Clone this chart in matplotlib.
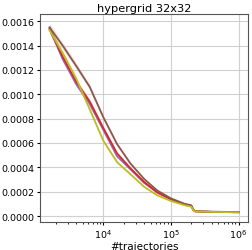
import matplotlib
matplotlib.use("Agg")
import matplotlib.pyplot as plt
import numpy as np

x = [1600, 2500, 4000, 6300, 10000, 16000, 25000, 40000, 63000, 100000,
     160000, 200000, 215000, 230000, 400000, 1000000]

purple = [0.001542, 0.00129, 0.00108, 0.00092, 0.000707, 0.00049, 0.000386, 0.000273,
          0.000193, 0.000137, 0.000096, 0.000084, 0.000048, 0.000038, 0.000034, 0.000031]
red = [0.001534, 0.00131, 0.0011, 0.00094, 0.000723, 0.000514, 0.000394, 0.000281,
       0.000193, 0.000137, 0.000096, 0.000084, 0.000048, 0.000038, 0.000034, 0.000031]
brown = [0.00155, 0.0014, 0.00123, 0.00106, 0.000811, 0.00059, 0.000434, 0.000305,
         0.000209, 0.000145, 0.0001, 0.000088, 0.000052, 0.00004, 0.000036, 0.000032]
olive = [0.001526, 0.00134, 0.001125, 0.000876, 0.000618, 0.000442, 0.000345, 0.000241,
         0.000169, 0.000124, 0.000088, 0.000076, 0.000048, 0.000038, 0.000034, 0.000030]

series = [("tab:purple", purple), ("tab:red", red), ("tab:brown", brown), ("tab:olive", olive)]

fig = plt.figure(figsize=(2.52, 2.51), dpi=100)
ax = fig.add_axes([0.159, 0.112, 0.825, 0.828])
for c, y in series:
    y = np.array(y)
    ax.fill_between(x, y * 0.98, y * 1.02, color=c, alpha=0.15, lw=0)
    ax.plot(x, y, color=c, lw=1.3)

ax.set_xscale("log")
ax.grid(True, color="#d0d0d0", lw=0.8)
ax.set_title("hypergrid 32x32", fontsize=8.2, pad=2)
ax.set_xlabel("#trajectories", fontsize=7.5, labelpad=1)
ax.tick_params(labelsize=6.8, length=2.5, pad=1.5)
ax.tick_params(which="minor", length=1.5)
for s in ax.spines.values():
    s.set_color("#555555")
fig.savefig("out.png", dpi=100)
